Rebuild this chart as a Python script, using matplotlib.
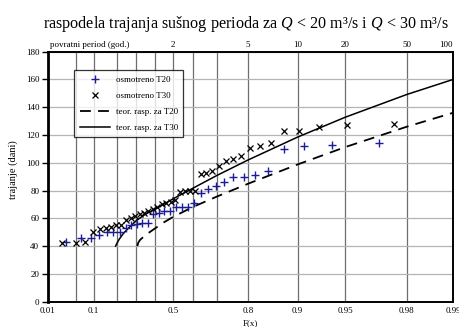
import numpy as np
import matplotlib
matplotlib.use("Agg")
import matplotlib.pyplot as plt

plt.rcParams['font.family'] = ['Liberation Serif', 'DejaVu Serif']
plt.rcParams['mathtext.fontset'] = 'custom'
plt.rcParams['mathtext.rm'] = 'Liberation Serif'
plt.rcParams['mathtext.it'] = 'Liberation Serif:italic'

# osmotrene duzine susnog perioda (dani), sortirano
t20_obs = [43, 46, 46, 48, 50, 50, 50, 53, 55, 56, 57, 57, 63, 64, 65, 65,
           68, 68, 68, 71, 78, 81, 83, 86, 90, 90, 91, 94, 110, 112, 113, 114]
t30_obs = [42, 42, 43, 50, 52, 53, 54, 55, 55, 59, 60, 62, 63, 64, 65, 67,
           68, 70, 71, 72, 73, 79, 80, 80, 80, 92, 93, 94, 98, 101, 103, 105,
           111, 112, 114, 123, 123, 126, 127, 128]

# teorijske raspodele (ocitano)
teor_F_T20 = [0.305, 0.31, 0.32, 0.35, 0.40, 0.45, 0.50, 0.60, 0.70, 0.80, 0.90, 0.95, 0.98, 0.99]
teor_T20 = [40, 42.5, 44.5, 48, 52.5, 57, 61, 68.3, 75.7, 84.9, 98.8, 111.3, 126, 136]
teor_F_T30 = [0.192, 0.20, 0.21, 0.23, 0.25, 0.30, 0.35, 0.40, 0.50, 0.60, 0.70, 0.80, 0.90, 0.95, 0.98, 0.99]
teor_T30 = [40, 42.5, 45, 49, 52, 58.5, 63, 66.5, 74, 81.8, 90.9, 102, 118.5, 132.8, 149.2, 160]

f_grid = [0.01, 0.05, 0.1, 0.2, 0.3, 0.4, 0.5, 0.6, 0.7, 0.8, 0.9, 0.95, 0.98, 0.99]
f_labels = [0.01, 0.1, 0.5, 0.8, 0.9, 0.95, 0.98, 0.99]
povratni = [2, 5, 10, 20, 50, 100]


def gumbel(F):
    F = np.clip(np.asarray(F, dtype=float), 1e-9, 1 - 1e-9)
    return -np.log(-np.log(F))


def gumbel_inv(z):
    return np.exp(-np.exp(-np.asarray(z, dtype=float)))


# Weibull plotting position i/(n+1)
F20 = np.arange(1, len(t20_obs) + 1) / (len(t20_obs) + 1)
F30 = np.arange(1, len(t30_obs) + 1) / (len(t30_obs) + 1)

fig = plt.figure(figsize=(4.6, 3.27), dpi=100)
ax = fig.add_axes([0.1037, 0.0774, 0.8811, 0.7645])
ax.set_xscale('function', functions=(gumbel, gumbel_inv))

ax.plot(F20, t20_obs, '+', color='#1c1c9a', ms=5.5, mew=1.0, label='osmotreno T20', zorder=4)
ax.plot(F30, t30_obs, 'x', color='black', ms=4.5, mew=0.9, label='osmotreno T30', zorder=4)
ax.plot(teor_F_T20, teor_T20, color='black', lw=1.3, dashes=(6, 4), label='teor. rasp. za T20', zorder=3)
ax.plot(teor_F_T30, teor_T30, color='black', lw=1.1, label='teor. rasp. za T30', zorder=3)

ax.set_xlim(0.01, 0.99)
ax.set_ylim(0, 180)
ax.set_yticks(np.arange(0, 181, 20))
ax.set_xticks(f_grid)
ax.set_xticklabels([str(f) if f in f_labels else '' for f in f_grid])
ax.xaxis.set_minor_locator(matplotlib.ticker.NullLocator())

ax.grid(axis='x', color='#6e6e6e', lw=0.9, zorder=0)
ax.grid(axis='y', color='#b4b4b4', lw=0.9, zorder=0)
ax.set_axisbelow(True)

ax.tick_params(axis='x', length=0, pad=4, labelsize=6.5)
ax.tick_params(axis='y', length=4, width=1, pad=2, labelsize=6.5)
for side in ['top', 'right', 'bottom']:
    ax.spines[side].set_linewidth(1.4)
ax.spines['left'].set_linewidth(2.0)

ax.set_ylabel('trajanje (dani)', fontsize=7.5)
ax.yaxis.set_label_coords(-0.074, 0.53)
ax.set_xlabel('F(x)', fontsize=6.5, labelpad=3)

# povratni period na gornjoj ivici
ax.text(0.006, 1.012, 'povratni period (god.)', transform=ax.transAxes,
        fontsize=6.5, ha='left', va='bottom')
trans = matplotlib.transforms.blended_transform_factory(ax.transData, ax.transAxes)
for T in povratni:
    x = 1 - 1 / T
    if T == 100:
        ax.text(x, 1.012, str(T), transform=trans, fontsize=6.5, ha='right', va='bottom')
    else:
        ax.text(x, 1.012, str(T), transform=trans, fontsize=6.5, ha='center', va='bottom')

fig.suptitle('raspodela trajanja sušnog perioda za $Q$ < 20 m³/s i $Q$ < 30 m³/s',
             fontsize=11.6, x=0.535, y=0.958)

leg = ax.legend(loc='upper left', bbox_to_anchor=(0.0656, 0.927), borderaxespad=0,
                fontsize=6.5, handlelength=3.4, labelspacing=0.85, frameon=True,
                fancybox=False, edgecolor='black', borderpad=0.6, handletextpad=0.6)
leg.get_frame().set_linewidth(0.9)

fig.savefig('out.png', dpi=100)
